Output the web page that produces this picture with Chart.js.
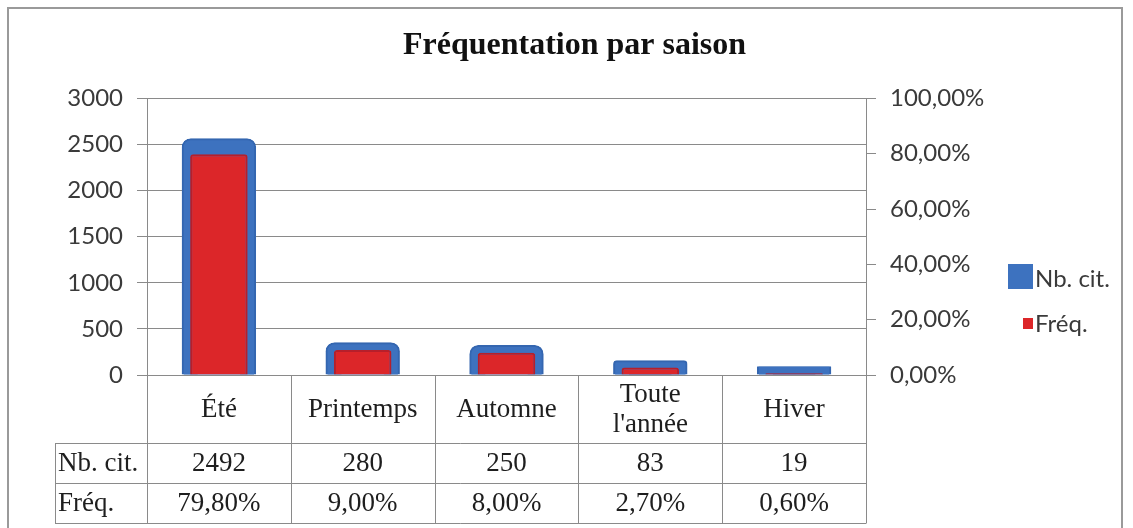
<!DOCTYPE html>
<html>
<head>
<meta charset="utf-8">
<title>Fréquentation par saison</title>
<script src="https://cdn.jsdelivr.net/npm/chart.js@4/dist/chart.umd.min.js"></script>
<style>
  html, body { margin: 0; padding: 0; background: #fff; }
</style>
</head>
<body>
<canvas id="chart" width="1133" height="528"></canvas>
<script>
// --- data ---
const saisons = ["Été", "Printemps", "Automne", ["Toute", "l'année"], "Hiver"];
const nbCit = [2492, 280, 250, 83, 19];
const freq = [79.8, 9.0, 8.0, 2.7, 0.6];      // en %
const rowLabels = ["Nb. cit.", "Fréq."];

const fmtPct = v => v.toFixed(2).replace(".", ",") + "%";

const GRID = "#8a8a8a";
const TXT = "#3a3a3a";

// white background + grey frame
const frame = {
  id: "frame",
  beforeDraw(chart) {
    const ctx = chart.ctx;
    ctx.save();
    ctx.fillStyle = "#fff";
    ctx.fillRect(0, 0, chart.width, chart.height);
    ctx.strokeStyle = "#9a9a9a";
    ctx.lineWidth = 2;
    ctx.strokeRect(8, 8, 1114, 540);
    ctx.restore();
  }
};

// data table under the plot
const dataTable = {
  id: "dataTable",
  afterDraw(chart) {
    const { ctx, chartArea: a, scales: { x } } = chart;
    const half = (x.getPixelForValue(1) - x.getPixelForValue(0)) / 2;
    const rows = [a.bottom, 443, 483, 523];
    const leftEdge = 55;
    const px = v => Math.round(v) + 0.5;

    ctx.save();
    ctx.strokeStyle = GRID;
    ctx.lineWidth = 1;
    ctx.beginPath();
    // column dividers
    for (let i = 0; i <= saisons.length; i++) {
      const cx = px(x.getPixelForValue(i) - half);
      ctx.moveTo(cx, rows[0]);
      ctx.lineTo(cx, rows[3]);
    }
    // row lines
    for (let r = 1; r < rows.length; r++) {
      ctx.moveTo(leftEdge, px(rows[r]));
      ctx.lineTo(px(a.right), px(rows[r]));
    }
    ctx.moveTo(px(leftEdge), rows[1]);
    ctx.lineTo(px(leftEdge), rows[3]);
    ctx.stroke();

    ctx.fillStyle = "#1e1e1e";
    ctx.font = "27px 'Liberation Serif'";
    ctx.textBaseline = "middle";
    ctx.textAlign = "center";
    saisons.forEach((lab, i) => {
      const cx = x.getPixelForValue(i);
      const mid = (rows[0] + rows[1]) / 2 + 1;
      if (Array.isArray(lab)) {
        ctx.fillText(lab[0], cx, mid - 15);
        ctx.fillText(lab[1], cx, mid + 15);
      } else {
        ctx.fillText(lab, cx, mid);
      }
      ctx.fillText(String(nbCit[i]), cx, (rows[1] + rows[2]) / 2 + 1);
      ctx.fillText(fmtPct(freq[i]), cx, (rows[2] + rows[3]) / 2 + 1);
    });
    ctx.textAlign = "left";
    ctx.fillText(rowLabels[0], leftEdge + 3, (rows[1] + rows[2]) / 2 + 1);
    ctx.fillText(rowLabels[1], leftEdge + 3, (rows[2] + rows[3]) / 2 + 1);
    ctx.restore();
  }
};

// legend on the right
const sideLegend = {
  id: "sideLegend",
  afterDraw(chart) {
    const ctx = chart.ctx;
    const ds = chart.data.datasets;
    ctx.save();
    ctx.font = "24px Lato";
    ctx.textBaseline = "middle";
    ctx.fillStyle = ds[0].backgroundColor;
    ctx.fillRect(1008, 264, 25, 25);
    ctx.fillStyle = ds[1].backgroundColor;
    ctx.fillRect(1023, 318, 10, 11);
    ctx.fillStyle = TXT;
    ctx.fillText(ds[0].label, 1035, 279);
    ctx.fillText(ds[1].label, 1035, 324);
    ctx.restore();
  }
};

new Chart(document.getElementById("chart"), {
  type: "bar",
  data: {
    labels: saisons,
    datasets: [
      {
        label: "Nb. cit.",
        data: nbCit,
        yAxisID: "y",
        backgroundColor: "#3d72bf",
        borderColor: "#3466b0",
        borderWidth: 2,
        borderRadius: { topLeft: 9, topRight: 9 },
        inflateAmount: 7,
        barPercentage: 0.42,
        categoryPercentage: 1,
        order: 1
      },
      {
        label: "Fréq.",
        data: freq,
        yAxisID: "y1",
        backgroundColor: "#dc2629",
        borderColor: "#b71f2a",
        borderWidth: 2,
        borderRadius: { topLeft: 3, topRight: 3 },
        barPercentage: 0.40,
        categoryPercentage: 1,
        order: 0
      }
    ]
  },
  options: {
    responsive: false,
    animation: false,
    layout: { padding: { top: 8, left: 16, right: 0, bottom: 153 } },
    plugins: {
      legend: { display: false },
      tooltip: { enabled: false },
      title: {
        display: true,
        text: "Fréquentation par saison",
        color: "#111",
        font: { family: "'Liberation Serif'", size: 32, weight: "bold" },
        padding: { top: 19, bottom: 33 }
      }
    },
    datasets: { bar: { grouped: false } },
    scales: {
      x: { display: false },
      y: {
        position: "left",
        min: 0, max: 3000,
        ticks: { stepSize: 500, color: TXT, padding: 14, font: { family: "Lato", size: 24 }, callback: v => String(v) },
        grid: { color: GRID, tickLength: 10 },
        border: { display: true, color: GRID },
        afterFit(s) { s.width = 131; }
      },
      y1: {
        position: "right",
        min: 0, max: 100,
        ticks: { stepSize: 20, color: TXT, padding: 14, font: { family: "Lato", size: 24 }, callback: v => fmtPct(v) },
        grid: { drawOnChartArea: false, color: GRID, tickLength: 10 },
        border: { display: true, color: GRID },
        afterFit(s) { s.width = 1133 - 866; }
      }
    }
  },
  plugins: [frame, dataTable, sideLegend]
});
</script>
</body>
</html>
